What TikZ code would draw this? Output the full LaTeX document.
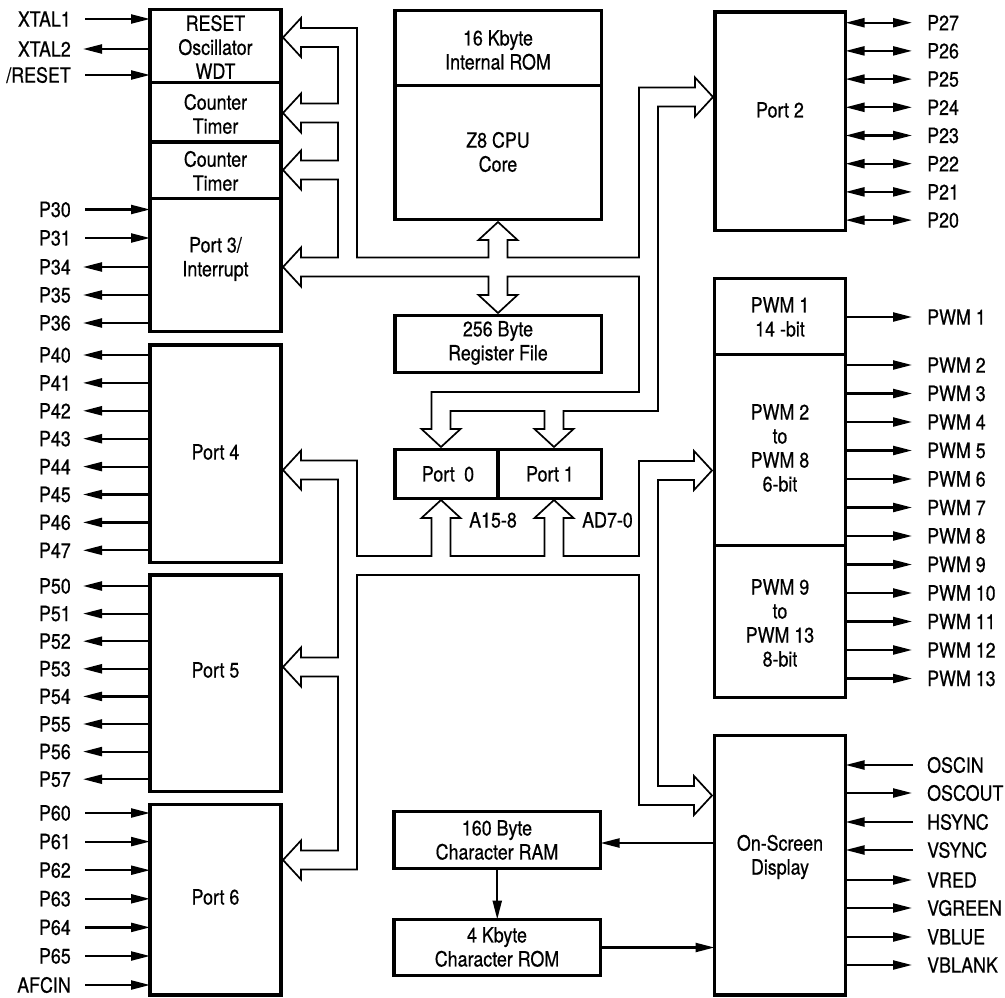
\documentclass[tikz,border=0pt]{standalone}
\usepackage{fontspec}
\setmainfont[FakeStretch=0.85,FakeBold=0.6]{TeX Gyre Heros}
\usetikzlibrary{arrows.meta}
\newcommand\mkbox[5]{%
  \node[blk, minimum width=#4-#2, minimum height=#5-#3] (#1) at ({(#2+#4)/2},{(#3+#5)/2}) {};}
\newcommand\pinL[4]{%
  \node[lbl, anchor=east] (#1) at (71,#3) {#2};
  \draw[sig] ([xshift=14pt]#1.east) -- (#1.east -| #4.west);}
\newcommand\poutL[4]{%
  \node[lbl, anchor=east] (#1) at (71,#3) {#2};
  \draw[sig] (#1.east -| #4.west) -- ([xshift=12pt]#1.east);}
\newcommand\pinR[4]{%
  \node[lbl, anchor=west] (#1) at (927,#3) {#2};
  \draw[sig] ([xshift=-14pt]#1.west) -- (#1.west -| #4.east);}
\newcommand\poutR[4]{%
  \node[lbl, anchor=west] (#1) at (927,#3) {#2};
  \draw[sig] (#1.west -| #4.east) -- ([xshift=-15pt]#1.west);}
\newcommand\pbiR[4]{%
  \node[lbl, anchor=west] (#1) at (927,#3) {#2};
  \draw[bsig] (#1.west -| #4.east) -- ([xshift=-15pt]#1.west);}
\begin{document}
\begin{tikzpicture}[x=1pt,y=-1pt,
  blk/.style={draw, line width=3.8pt, inner sep=0pt, outer sep=0pt},
  txt/.style={align=center, inner sep=0pt, font=\fontsize{21}{24}\selectfont},
  lbl/.style={inner sep=0pt, font=\fontsize{21}{24}\selectfont},
  sig/.style={line width=2.2pt, -{Triangle[length=19pt,width=9pt]}},
  bsig/.style={line width=2.2pt, {Triangle[length=19pt,width=9pt]}-{Triangle[length=19pt,width=9pt]}},
  bus/.style={line width=1.7pt, line join=miter}]
\useasboundingbox (0,0) rectangle (1005,998);

% ---- boxes ----
\mkbox{rst}{150}{9.5}{281}{82.5}
\mkbox{ct1}{150}{82.5}{281}{142}
\mkbox{ct2}{150}{142}{281}{198.5}
\mkbox{p3}{150}{198.5}{281}{331.5}
\mkbox{p4}{150}{345}{281}{562.5}
\mkbox{p5}{150}{575}{281}{791.5}
\mkbox{p6}{150}{804.5}{281}{995}
\mkbox{rom}{395}{10.5}{601.5}{85.5}
\mkbox{cpu}{395}{85.5}{601.5}{219.5}
\mkbox{reg}{395}{315.5}{601.5}{372.5}
\mkbox{p0}{395}{449.5}{498}{498.5}
\mkbox{p1}{498}{449.5}{601.5}{498.5}
\mkbox{p2}{715}{12}{845.5}{230.5}
\mkbox{pwma}{714.5}{278.5}{845.5}{354.5}
\mkbox{pwmb}{714.5}{354.5}{845.5}{545.5}
\mkbox{pwmc}{714.5}{545.5}{845.5}{697.5}
\mkbox{osd}{714.5}{735.5}{845.5}{995}
\mkbox{cram}{394}{811.5}{600.5}{868.5}
\mkbox{crom}{394}{919.5}{600.5}{975.5}

% ---- box texts ----
\node[txt] (trst) at (215.5,47) {RESET\\Oscillator\\WDT};
\node[txt] (tct1) at (215.5,114) {Counter\\Timer};
\node[txt] (tct2) at (215.5,171) {Counter\\Timer};
\node[txt] (tp3) at (215.5,259) {Port 3/\\Interrupt};
\node[txt] (tp4) at (215.5,452) {Port 4};
\node[txt] (tp5) at (215.5,670) {Port 5};
\node[txt] (tp6) at (215.5,897) {Port 6};
\node[txt] (trom) at (498,50) {16 Kbyte\\Internal ROM};
\node[txt] (tcpu) at (498,152) {Z8 CPU\\Core};
\node[txt] (treg) at (498,343) {256 Byte\\Register File};
\node[txt] (tp0) at (448,474) {Port\hspace{0.45em}0};
\node[txt] (tp1) at (550,474) {Port 1};
\node[txt] (tp2) at (780,110) {Port 2};
\node[txt] (tpwma) at (780,317) {PWM 1\\14 -bit};
\node[txt] (tpwmb) at (780,448) {PWM 2\\to\\PWM 8\\6-bit};
\node[txt] (tpwmc) at (780,623) {PWM 9\\to\\PWM 13\\8-bit};
\node[txt] (tosd) at (780,857) {On-Screen\\Display};
\node[txt] (tcram) at (497,840) {160 Byte\\Character RAM};
\node[txt] (tcrom) at (497,947) {4 Kbyte\\Character ROM};
\node[lbl, anchor=west] (la15) at (469,520) {A15-8};
\node[lbl, anchor=west] (lad7) at (582,520) {AD7-0};

% ---- left pins ----
\pinL{xa}{XTAL1}{19}{rst}
\poutL{xb}{XTAL2}{49}{rst}
\pinL{xr}{/RESET}{75}{rst}
\pinL{q30}{P30}{209.5}{p3}
\pinL{q31}{P31}{238}{p3}
\poutL{q34}{P34}{267}{p3}
\poutL{q35}{P35}{295}{p3}
\poutL{q36}{P36}{323}{p3}
\foreach \k in {0,...,7}{
  \pgfmathsetmacro\yy{355+27.9*\k}
  \poutL{q4\k}{P4\k}{\yy}{p4}
}
\foreach \k in {0,...,7}{
  \pgfmathsetmacro\yy{586+27.6*\k}
  \poutL{q5\k}{P5\k}{\yy}{p5}
}
\foreach \k in {0,...,5}{
  \pgfmathsetmacro\yy{813+28.6*\k}
  \pinL{q6\k}{P6\k}{\yy}{p6}
}
\pinL{qaf}{AFCIN}{985}{p6}

% ---- right pins ----
\foreach \k in {0,...,7}{
  \pgfmathsetmacro\yy{22.7+28.2*\k}
  \pgfmathtruncatemacro\nn{7-\k}
  \pbiR{r2\nn}{P2\nn}{\yy}{p2}
}
\poutR{w1}{PWM 1}{317}{pwma}
\foreach \k in {2,...,8}{
  \pgfmathsetmacro\yy{365+28.5*(\k-2)}
  \poutR{w\k}{PWM \k}{\yy}{pwmb}
}
\foreach \k in {9,...,13}{
  \pgfmathsetmacro\yy{365+28.5*(\k-2)}
  \poutR{w\k}{PWM \k}{\yy}{pwmc}
}
\pinR{o1}{OSCIN}{765}{osd}
\poutR{o2}{OSCOUT}{793}{osd}
\pinR{o3}{HSYNC}{822}{osd}
\pinR{o4}{VSYNC}{850}{osd}
\poutR{o5}{VRED}{880}{osd}
\poutR{o6}{VGREEN}{908}{osd}
\poutR{o7}{VBLUE}{937}{osd}
\poutR{o8}{VBLANK}{965}{osd}

% ---- character RAM / ROM links ----
\draw[sig] (osd.west |- 0,843) -- (cram.east |- 0,843);
\draw[sig] (cram.south) -- (crom.north);
\draw[sig] (crom.east) -- (crom.east -| osd.west);

% ---- upper bus ----
\draw[bus] (283,37.5) -- (301,57) -- (301,47) -- (338,47) -- (338,103.5) -- (301,103.5) -- (301,93.5) -- (283,113) -- (301,132.5) -- (301,122.5) -- (338,122.5) -- (338,160.5) -- (301,160.5) -- (301,150.5) -- (283,170) -- (301,189.5) -- (301,179.5) -- (338,179.5) -- (338,257.5) -- (301,257.5) -- (301,247.5) -- (283,267) -- (301,286.5) -- (301,276.5) -- (488.5,276.5) -- (488.5,295) -- (478.5,295) -- (498,313) -- (517.5,295) -- (507.5,295) -- (507.5,276.5) -- (639,276.5) -- (639,392) -- (431.5,392) -- (431.5,429) -- (421.5,429) -- (441,447) -- (460.5,429) -- (450.5,429) -- (450.5,411) -- (544.5,411) -- (544.5,429) -- (534.5,429) -- (554,447) -- (573.5,429) -- (563.5,429) -- (563.5,411) -- (658,411) -- (658,106.5) -- (695,106.5) -- (695,116.5) -- (713,97) -- (695,77.5) -- (695,87.5) -- (639,87.5) -- (639,257.5) -- (507.5,257.5) -- (507.5,240) -- (517.5,240) -- (498,222) -- (478.5,240) -- (488.5,240) -- (488.5,257.5) -- (357,257.5) -- (357,28) -- (301,28) -- (301,18) -- cycle;

% ---- lower bus ----
\draw[bus] (283,470) -- (301,450.5) -- (301,460.5) -- (357,460.5) -- (357,556) -- (431.5,556) -- (431.5,518) -- (421.5,518) -- (441,500) -- (460.5,518) -- (450.5,518) -- (450.5,556) -- (544.5,556) -- (544.5,518) -- (534.5,518) -- (554,500) -- (573.5,518) -- (563.5,518) -- (563.5,556) -- (639,556) -- (639,461) -- (694,461) -- (694,451) -- (712,470.5) -- (694,490) -- (694,480) -- (658,480) -- (658,786) -- (694,786) -- (694,776) -- (712,795.5) -- (694,815) -- (694,805) -- (639,805) -- (639,575) -- (357,575) -- (357,869.5) -- (301,869.5) -- (301,879.5) -- (283,860) -- (301,840.5) -- (301,850.5) -- (338,850.5) -- (338,676.5) -- (301,676.5) -- (301,686.5) -- (283,667) -- (301,647.5) -- (301,657.5) -- (338,657.5) -- (338,479.5) -- (301,479.5) -- (301,489.5) -- cycle;
\end{tikzpicture}
\end{document}
